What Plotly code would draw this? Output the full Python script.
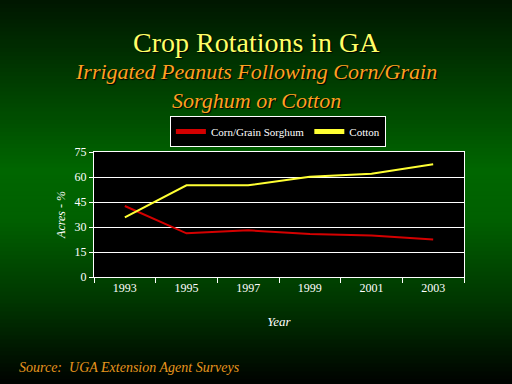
import plotly.graph_objects as go

years = ["1993", "1995", "1997", "1999", "2001", "2003"]
corn_sorghum = [42.6, 26.2, 28.0, 25.8, 24.9, 22.5]
cotton = [35.8, 55.0, 55.0, 60.2, 62.0, 67.6]
y_ticks = [0, 15, 30, 45, 60, 75]

W, H = 512, 384
ML, MR, MT, MB = 94, 48, 152, 107
PH = H - MT - MB

fig = go.Figure()
fig.add_trace(go.Scatter(x=years, y=corn_sorghum, mode="lines", name="Corn/Grain Sorghum",
                         line=dict(color="#d40000", width=2)))
fig.add_trace(go.Scatter(x=years, y=cotton, mode="lines", name="Cotton",
                         line=dict(color="#ffff33", width=2)))

# vertical gradient background
stops = [(0, (0, 22, 0)), (60, (0, 50, 0)), (170, (0, 102, 0)), (220, (0, 96, 0)),
         (300, (0, 55, 0)), (384, (0, 2, 0))]
def col(py):
    for (a, ca), (b, cb) in zip(stops[:-1], stops[1:]):
        if a <= py <= b:
            t = (py - a) / (b - a)
            return "rgb(%d,%d,%d)" % tuple(round(ca[i] + (cb[i] - ca[i]) * t) for i in range(3))
    return "rgb(0,0,0)"
shapes = []
step = 4
for py in range(0, H, step):
    shapes.append(dict(type="rect", xref="paper", yref="paper", layer="below",
                       x0=-ML / (W - ML - MR) - 0.01, x1=1 + MR / (W - ML - MR) + 0.01,
                       y0=(H - MB - py - step - 0.5) / PH, y1=(H - MB - py + 0.5) / PH,
                       line=dict(width=0), fillcolor=col(py + step / 2)))
shapes.append(dict(type="rect", xref="x domain", yref="y domain", layer="below",
                   x0=0, x1=1, y0=0, y1=1, line=dict(width=0), fillcolor="black"))

serif = "Liberation Serif, Times New Roman, serif"
def py2paper(py):
    return (H - MB - py) / PH

annotations = [
    dict(text="Crop Rotations in GA", x=0.5, xref="paper", y=py2paper(42), yref="paper",
         xanchor="center", yanchor="middle", showarrow=False, xshift=-23,
         font=dict(family=serif, size=28, color="#ffff66", shadow="1px 1px 1px #000000")),
    dict(text="<i>Irrigated Peanuts Following Corn/Grain<br>Sorghum or Cotton</i>", x=0.5, xref="paper",
         y=py2paper(86), yref="paper", xanchor="center", yanchor="middle", showarrow=False, xshift=-23,
         font=dict(family=serif, size=22, color="#ffa020", shadow="1px 1px 1px #000000")),
    dict(text="<i>Source:  UGA Extension Agent Surveys</i>", x=0, xref="paper", y=py2paper(367),
         yref="paper", xanchor="left", yanchor="middle", showarrow=False,
         font=dict(family=serif, size=14, color="#e8961e")),
]
annotations[2]["x"] = (17 - ML) / (W - ML - MR)

fig.update_layout(
    width=W, height=H, margin=dict(l=ML, r=MR, t=MT, b=MB, autoexpand=False),
    paper_bgcolor="#000000", plot_bgcolor="#000000",
    font=dict(family=serif, size=12, color="white"),
    shapes=shapes, annotations=annotations,
    showlegend=True,
    legend=dict(orientation="h", x=0.497, xanchor="center", y=py2paper(116), yanchor="top",
                bgcolor="black", bordercolor="white", borderwidth=1,
                font=dict(family=serif, size=11, color="white"), itemwidth=30,
                tracegroupgap=0, itemsizing="constant"),
    xaxis=dict(type="category", tickson="boundaries", ticks="outside", ticklen=5, tickcolor="white",
               showline=True, linecolor="white", linewidth=1, mirror=True, showgrid=False,
               range=[-0.5, 5.5], tickfont=dict(family=serif, size=12, color="white"),
               title=dict(text="<i>Year</i>", standoff=22, font=dict(family=serif, size=13, color="white")),
               automargin=False),
    yaxis=dict(range=[0, 75], tickvals=y_ticks, ticks="outside", ticklen=4, tickcolor="white",
               showline=True, linecolor="white", linewidth=1, mirror=True,
               showgrid=True, gridcolor="white", gridwidth=1, zeroline=False,
               tickfont=dict(family=serif, size=12, color="white"),
               title=dict(text="<i>Acres - %</i>", standoff=6, font=dict(family=serif, size=12, color="white")),
               automargin=False),
)
fig.write_html("out.html", config={"displayModeBar": False},
               post_script="document.body.style.margin='0';")
